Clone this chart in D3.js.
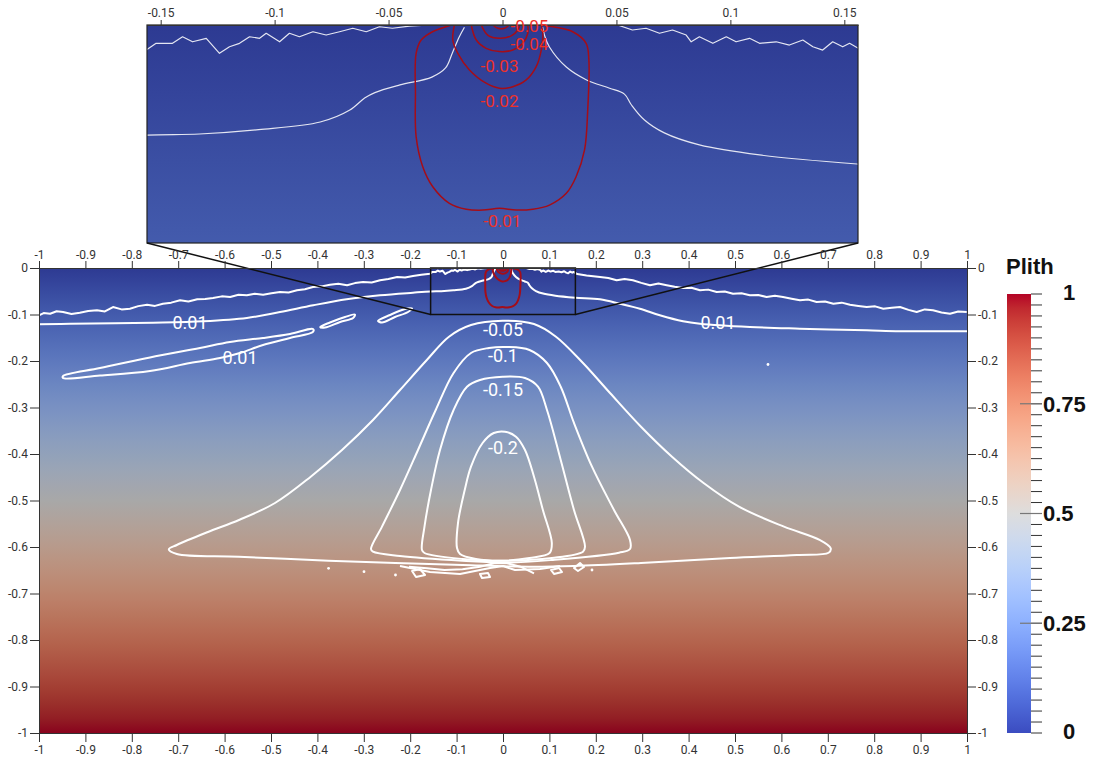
<!DOCTYPE html>
<html>
<head>
<meta charset="utf-8">
<script src="https://cdn.jsdelivr.net/npm/d3@7"></script>
<style>
  body { margin: 0; background: #fff; }
  svg { display: block; font-family: Roboto, "Open Sans", sans-serif; }
</style>
</head>
<body>
<svg id="chart" width="1098" height="759"></svg>
<script>
// ---- axes / ticks ----
const xTicks = [-1, -0.9, -0.8, -0.7, -0.6, -0.5, -0.4, -0.3, -0.2, -0.1, 0, 0.1, 0.2, 0.3, 0.4, 0.5, 0.6, 0.7, 0.8, 0.9, 1];
const yTicks = [0, -0.1, -0.2, -0.3, -0.4, -0.5, -0.6, -0.7, -0.8, -0.9, -1];
const insetTicks = [-0.15, -0.1, -0.05, 0, 0.05, 0.1, 0.15];
const zoomX = [-0.156, 0.156];
const zoomY = [0, -0.1];
const barTicks = [0, 0.25, 0.5, 0.75, 1];

// ParaView "cool to warm" map (Plith 0 -> 1)
const coolWarm = [
  [59,76,192],[68,90,204],[77,104,215],[87,117,225],[98,130,234],[108,142,241],[119,154,247],[130,165,251],
  [141,176,254],[152,185,255],[163,194,255],[174,201,253],[184,208,249],[194,213,244],[204,217,238],[213,219,230],
  [221,221,221],[229,216,209],[236,211,197],[241,204,185],[245,196,173],[247,187,160],[247,177,148],[247,166,135],
  [244,154,123],[241,141,111],[236,127,99],[229,112,88],[222,96,77],[213,80,66],[203,62,56],[192,40,47],[180,4,38]
];

// ---- white contours [x, y] ----
const surfaceLeft = [
  [-1.0,-0.1017],[-0.99,-0.097],[-0.976,-0.0983],[-0.962,-0.093],[-0.948,-0.0946],[-0.93,-0.099],[-0.912,-0.0961],
  [-0.894,-0.0925],[-0.875,-0.091],[-0.858,-0.0935],[-0.8405,-0.0839],[-0.822,-0.089],[-0.804,-0.0875],[-0.786,-0.082],
  [-0.767,-0.0789],[-0.75,-0.0815],[-0.733,-0.0768],[-0.715,-0.0745],[-0.696,-0.0695],[-0.678,-0.072],[-0.659,-0.0673],
  [-0.642,-0.0665],[-0.625,-0.0645],[-0.606,-0.061],[-0.588,-0.0624],[-0.57,-0.0575],[-0.552,-0.0587],[-0.535,-0.0555],
  [-0.517,-0.0574],[-0.499,-0.0545],[-0.4806,-0.0516],[-0.462,-0.0525],[-0.444,-0.048],[-0.427,-0.0455],[-0.4095,-0.0409],
  [-0.391,-0.0395],[-0.373,-0.0359],[-0.355,-0.034],[-0.336,-0.0372],[-0.319,-0.0325],[-0.3017,-0.0301],[-0.283,-0.031],
  [-0.265,-0.0265],[-0.247,-0.0235],[-0.228,-0.0194],[-0.211,-0.0205],[-0.194,-0.0172],[-0.176,-0.0145],[-0.157,-0.0123],
  [-0.1563,-0.0115],[-0.152,-0.0084],[-0.1448,-0.0084],[-0.1404,-0.0054],[-0.136,-0.0077],[-0.13,-0.0061],[-0.1242,-0.013],
  [-0.1198,-0.01],[-0.1154,-0.0084],[-0.111,-0.0054],[-0.1066,-0.0061],[-0.1037,-0.0038],[-0.0978,-0.0077],[-0.0935,-0.0038],
  [-0.0891,-0.0054],[-0.0832,-0.0031],[-0.0774,-0.0046],[-0.0715,-0.0031],[-0.0657,-0.0015],[-0.0598,-0.0031],[-0.054,-0.0008],
  [-0.0483,-0.0015],[-0.0408,-0.0005],[-0.032,0.0]
];
const surfaceRight = [
  [0.0505,0.0],[0.057,-0.0023],[0.063,-0.0015],[0.0689,-0.0038],[0.0746,-0.0023],[0.0806,-0.0046],[0.0828,-0.0077],
  [0.0864,-0.0054],[0.0923,-0.0084],[0.0982,-0.0054],[0.1025,-0.0077],[0.1084,-0.0061],[0.1128,-0.0084],[0.1201,-0.0077],
  [0.1259,-0.0092],[0.1318,-0.0069],[0.1362,-0.01],[0.1405,-0.0115],[0.1449,-0.0077],[0.1493,-0.01],[0.1523,-0.0084],
  [0.16,-0.013],[0.18,-0.016],[0.209,-0.0194],[0.227,-0.0215],[0.245,-0.0265],[0.262,-0.0235],[0.28,-0.0265],[0.298,-0.032],
  [0.3168,-0.0372],[0.335,-0.0335],[0.3528,-0.0372],[0.37,-0.0405],[0.388,-0.043],[0.406,-0.0425],[0.4246,-0.048],
  [0.442,-0.0465],[0.4606,-0.0516],[0.478,-0.0505],[0.4957,-0.0553],[0.514,-0.0545],[0.532,-0.0587],[0.55,-0.058],
  [0.568,-0.0624],[0.586,-0.0595],[0.6034,-0.0624],[0.622,-0.066],[0.64,-0.0695],[0.658,-0.068],[0.676,-0.0731],
  [0.694,-0.072],[0.712,-0.0768],[0.73,-0.0745],[0.7478,-0.0789],[0.766,-0.0815],[0.7838,-0.0839],[0.802,-0.0825],
  [0.8196,-0.0875],[0.838,-0.0855],[0.8556,-0.0839],[0.874,-0.09],[0.8916,-0.0946],[0.909,-0.089],[0.9267,-0.091],
  [0.945,-0.0955],[0.9634,-0.0983],[0.981,-0.0935],[0.9994,-0.0946]
];
const c001Left = [
  [-1.0,-0.121],[-0.933,-0.12],[-0.754,-0.1176],[-0.6466,-0.1146],[-0.552,-0.1075],[-0.4806,-0.0946],[-0.409,-0.0802],
  [-0.337,-0.0673],[-0.265,-0.0587],[-0.194,-0.0531],[-0.156,-0.0505],[-0.133,-0.05],[-0.107,-0.048],[-0.08,-0.0445],
  [-0.067,-0.039],[-0.0605,-0.0335],[-0.056,-0.031],[-0.045,-0.0275],[-0.031,-0.0239],[-0.025,-0.0197],[-0.022,-0.0128],
  [-0.019,-0.0055],[-0.0167,-0.001]
];
const c001Right = [
  [0.0176,-0.001],[0.0184,-0.0046],[0.0206,-0.0101],[0.028,-0.0193],[0.0369,-0.0252],[0.047,-0.029],[0.0535,-0.0317],
  [0.0566,-0.0367],[0.0623,-0.0436],[0.071,-0.0495],[0.0864,-0.055],[0.1128,-0.0596],[0.156,-0.0638],[0.209,-0.0673],
  [0.252,-0.0768],[0.295,-0.0875],[0.338,-0.1017],[0.388,-0.1146],[0.4246,-0.1198],[0.532,-0.1269],[0.64,-0.1305],
  [0.784,-0.134],[0.856,-0.136],[1.0,-0.136]
];
const c001Sliver = [
  [-0.9483,-0.2323],[-0.8685,-0.2151],[-0.7608,-0.1925],[-0.653,-0.172],[-0.5884,-0.1591],[-0.5172,-0.1505],[-0.459,-0.1419],
  [-0.4095,-0.1312],[-0.4095,-0.1376],[-0.459,-0.1505],[-0.5172,-0.1656],[-0.5668,-0.1828],[-0.6099,-0.1935],[-0.6746,-0.2043],
  [-0.7608,-0.2215],[-0.8685,-0.2312],[-0.9483,-0.2366]
];
const c001Loop1 = [[-0.394,-0.1269],[-0.373,-0.1172],[-0.3405,-0.1054],[-0.319,-0.1],[-0.323,-0.1075],[-0.351,-0.1161],[-0.3836,-0.128]];
const c001Loop2 = [[-0.2694,-0.114],[-0.2435,-0.101],[-0.2112,-0.0882],[-0.1961,-0.0871],[-0.2047,-0.0946],[-0.2328,-0.1054],[-0.2608,-0.1172]];
const c005 = [
  [-0.7203,-0.605],[-0.703,-0.5957],[-0.6358,-0.5677],[-0.569,-0.5419],[-0.4914,-0.5054],[-0.4144,-0.4488],[-0.347,-0.3914],
  [-0.2802,-0.3269],[-0.222,-0.2624],[-0.1642,-0.1978],[-0.1164,-0.1477],[-0.069,-0.1226],[-0.0006,-0.1133],[0.0668,-0.1204],
  [0.1142,-0.1477],[0.1724,-0.2043],[0.2306,-0.2688],[0.2974,-0.3413],[0.3642,-0.4058],[0.4323,-0.4624],[0.5086,-0.5133],
  [0.6056,-0.5563],[0.6823,-0.5849],[0.7063,-0.6028],[0.7017,-0.6123],[0.6336,-0.6172],[0.4892,-0.6237],[0.2974,-0.6344],
  [0.153,-0.6409],[0.056,-0.6424],[-0.0873,-0.6387],[-0.2317,-0.6344],[-0.3759,-0.6295],[-0.569,-0.6209],[-0.703,-0.615]
];
const c010 = [
  [-0.2845,-0.6043],[-0.2608,-0.5563],[-0.222,-0.4774],[-0.1832,-0.3914],[-0.145,-0.3054],[-0.1065,-0.2258],[-0.069,-0.1828],
  [-0.0302,-0.172],[0.0086,-0.1699],[0.0571,-0.1763],[0.0948,-0.2043],[0.1244,-0.2553],[0.153,-0.3333],[0.1918,-0.4273],
  [0.2392,-0.5204],[0.2737,-0.5849],[0.2737,-0.6043],[0.25,-0.6123],[0.1052,-0.628],[0.0086,-0.6337],[-0.0873,-0.6295],
  [-0.222,-0.6194],[-0.2802,-0.6101]
];
const c015 = [
  [-0.1746,-0.6065],[-0.1692,-0.5563],[-0.1552,-0.4774],[-0.1358,-0.3914],[-0.1065,-0.3054],[-0.0776,-0.2553],[-0.0496,-0.2409],
  [-0.0006,-0.2338],[0.0474,-0.2366],[0.0754,-0.2553],[0.0948,-0.3054],[0.1244,-0.4129],[0.153,-0.5204],[0.1767,-0.5993],
  [0.1724,-0.6101],[0.1052,-0.6237],[0.0086,-0.6295],[-0.0873,-0.6258],[-0.1692,-0.6129]
];
const c020 = [
  [-0.0991,-0.6022],[-0.097,-0.5484],[-0.0825,-0.4774],[-0.069,-0.4273],[-0.044,-0.3763],[-0.0199,-0.3548],[0.0043,-0.352],
  [0.028,-0.3628],[0.0474,-0.3914],[0.0668,-0.4488],[0.086,-0.5204],[0.1052,-0.5914],[0.1004,-0.6129],[0.0571,-0.6237],
  [-0.0006,-0.6295],[-0.0582,-0.6258],[-0.0927,-0.6151]
];
const bottomWave1 = [[-0.2026,-0.6424],[-0.1638,-0.6458],[-0.1259,-0.6495],[-0.0873,-0.648],[-0.0496,-0.6424],[-0.0172,-0.6344],[0.0086,-0.635],[0.0377,-0.6424],[0.0668,-0.6566]];
const bottomWave2 = [[-0.222,-0.6409],[-0.1573,-0.6538],[-0.0927,-0.6581],[-0.028,-0.6452],[0.0,-0.6409],[0.0259,-0.6495],[0.0797,-0.6473],[0.1228,-0.6409]];
const bottomLoops = [
  [[-0.196,-0.6516],[-0.179,-0.6473],[-0.168,-0.6602],[-0.1875,-0.6645]],
  [[-0.0496,-0.658],[-0.0323,-0.6559],[-0.028,-0.6645],[-0.0453,-0.6667]],
  [[0.1034,-0.6495],[0.1207,-0.6452],[0.1272,-0.6538],[0.1099,-0.658]],
  [[0.153,-0.6452],[0.166,-0.6344],[0.1746,-0.643],[0.1616,-0.6516]]
];
const specks = [[-0.3759,-0.6458],[-0.2996,-0.6531],[0.1918,-0.6495],[-0.2317,-0.6602],[0.5711,-0.2075]];

// ---- red contours (zoomed) ----
const r001 = [
  [-0.0224,0.0],[-0.0307,-0.0031],[-0.0357,-0.0069],[-0.0379,-0.013],[-0.0382,-0.0313],[-0.0379,-0.0512],[-0.035,-0.065],
  [-0.0306,-0.0742],[-0.0233,-0.0818],[-0.0159,-0.0845],[-0.0086,-0.0849],[-0.0013,-0.0841],[0.006,-0.0849],[0.0133,-0.0845],
  [0.0206,-0.0826],[0.028,-0.0772],[0.0323,-0.0696],[0.036,-0.0573],[0.0374,-0.039],[0.0379,-0.0161],[0.0367,-0.0084],
  [0.0308,-0.0031],[0.0221,-0.0008],[0.0177,0.0]
];
const r002 = [[-0.0211,0.0],[-0.0218,-0.0069],[-0.0196,-0.013],[-0.0145,-0.0206],[-0.0072,-0.0267],[-0.0013,-0.029],[0.0045,-0.0283],[0.0104,-0.0252],[0.0148,-0.0191],[0.017,-0.0115],[0.0177,-0.0038],[0.017,0.0]];
const r003 = [[-0.0137,0.0],[-0.0115,-0.0069],[-0.0072,-0.0107],[-0.0013,-0.0122],[0.0045,-0.0115],[0.0089,-0.0084],[0.0111,-0.0038],[0.0111,0.0]];
const r004 = [[-0.0093,0.0],[-0.0065,-0.0046],[-0.0013,-0.0061],[0.0038,-0.005],[0.0067,-0.0023],[0.0075,0.0]];
const r005 = [[-0.0043,0.0],[-0.002,-0.0015],[0.0009,-0.0015],[0.003,0.0]];

// contour labels
const whiteLabels = [
  { text: "0.01", at: [-0.6746,-0.1183] }, { text: "0.01", at: [-0.5668,-0.1935] }, { text: "0.01", at: [0.4634,-0.1183] },
  { text: "-0.05", at: [0,-0.1333] }, { text: "-0.1", at: [0,-0.1892] }, { text: "-0.15", at: [0,-0.2624] }, { text: "-0.2", at: [0,-0.385] }
];
const redLabels = [
  { text: "-0.05", at: [0.0118,-0.0005] }, { text: "-0.04", at: [0.0118,-0.0087] }, { text: "-0.03", at: [-0.0013,-0.0188] },
  { text: "-0.02", at: [-0.0013,-0.0349] }, { text: "-0.01", at: [0,-0.0899] }
];

const svg = d3.select('#chart');
const defs = svg.append('defs');
const shade = 0.76;
const cmap = d3.scaleLinear()
  .domain(coolWarm.map((c, i) => i / (coolWarm.length - 1)))
  .range(coolWarm.map(c => d3.rgb(c[0], c[1], c[2])))
  .interpolate(d3.interpolateRgb);
const shaded = p => { const c = d3.rgb(cmap(p)); return d3.rgb(c.r * shade, c.g * shade, c.b * shade); };

const x = d3.scaleLinear([-1, 1], [39, 967]);
const y = d3.scaleLinear([0, -1], [268, 733]);
const ix = d3.scaleLinear(zoomX, [147, 858]);
const iy = d3.scaleLinear(zoomY, [25, 243]);
const cb = d3.scaleLinear([0, 1], [733, 294]);

function makeGrad(id, y1, y2, colorFn) {
  const g = defs.append('linearGradient').attr('id', id)
    .attr('gradientUnits', 'userSpaceOnUse')
    .attr('x1', 0).attr('x2', 0).attr('y1', y1).attr('y2', y2);
  d3.range(0, 1.0001, 1 / 32).forEach(p => {
    g.append('stop').attr('offset', p).attr('stop-color', colorFn(p));
  });
}
makeGrad('mainGrad', y(0), y(-1), shaded);
makeGrad('insetGrad', iy(0), iy(-1), shaded);
makeGrad('barGrad', cb(0), cb(1), p => cmap(p));

defs.append('clipPath').attr('id', 'mainClip').append('rect')
  .attr('x', x(-1)).attr('y', y(0)).attr('width', x(1) - x(-1)).attr('height', y(-1) - y(0));
defs.append('clipPath').attr('id', 'insetClip').append('rect')
  .attr('x', ix(zoomX[0])).attr('y', iy(0)).attr('width', ix(zoomX[1]) - ix(zoomX[0])).attr('height', iy(zoomY[1]) - iy(0));

const fmt = d => String(+d.toFixed(3));

function drawView(g, sx, sy, opt) {
  const open = d3.line().x(d => sx(d[0])).y(d => sy(d[1])).curve(d3.curveCatmullRom);
  const rough = d3.line().x(d => sx(d[0])).y(d => sy(d[1]));
  const closed = d3.line().x(d => sx(d[0])).y(d => sy(d[1])).curve(d3.curveCatmullRomClosed);
  const roughClosed = d3.line().x(d => sx(d[0])).y(d => sy(d[1])).curve(d3.curveLinearClosed);
  const w = g.append('g').attr('fill', 'none').attr('stroke', opt.white).attr('stroke-width', opt.ww)
    .attr('stroke-linejoin', 'round');
  [surfaceLeft, surfaceRight].forEach(l => w.append('path').attr('d', rough(l)));
  [c001Left, c001Right].forEach(l => w.append('path').attr('d', open(l)));
  [c001Sliver, c001Loop1, c001Loop2, c005, c010, c015, c020].forEach(l => w.append('path').attr('d', closed(l)));
  [bottomWave1, bottomWave2].forEach(l => w.append('path').attr('d', rough(l)));
  bottomLoops.forEach(l => w.append('path').attr('d', roughClosed(l)));
  g.append('g').selectAll('circle').data(specks).join('circle')
    .attr('cx', d => sx(d[0])).attr('cy', d => sy(d[1])).attr('r', 1.4).attr('fill', '#fff');
  const r = g.append('g').attr('fill', 'none').attr('stroke', '#a50d18').attr('stroke-width', opt.rw);
  [r001, r002, r003, r004, r005].forEach(l => r.append('path').attr('d', open(l)));
}

// main view
const main = svg.append('g').attr('clip-path', 'url(#mainClip)');
main.append('rect').attr('x', x(-1)).attr('y', y(0)).attr('width', x(1) - x(-1)).attr('height', y(-1) - y(0))
  .attr('fill', 'url(#mainGrad)');
drawView(main, x, y, { white: '#fff', ww: 2, rw: 2 });
main.append('g').selectAll('text').data(whiteLabels).join('text')
  .attr('x', d => x(d.at[0])).attr('y', d => y(d.at[1])).attr('dy', '0.36em')
  .attr('text-anchor', 'middle').attr('fill', '#fff').attr('font-size', 18).text(d => d.text);

// inset view
const inset = svg.append('g').attr('clip-path', 'url(#insetClip)');
inset.append('rect').attr('x', ix(zoomX[0])).attr('y', iy(0)).attr('width', ix(zoomX[1]) - ix(zoomX[0]))
  .attr('height', iy(zoomY[1]) - iy(0)).attr('fill', 'url(#insetGrad)');
drawView(inset, ix, iy, { white: '#e4e6f2', ww: 1.2, rw: 1.5 });
svg.append('rect').attr('x', ix(zoomX[0])).attr('y', iy(0)).attr('width', ix(zoomX[1]) - ix(zoomX[0]))
  .attr('height', iy(zoomY[1]) - iy(0)).attr('fill', 'none').attr('stroke', '#222').attr('stroke-width', 1.2);

// zoom box + connectors
svg.append('rect').attr('x', x(zoomX[0])).attr('y', y(zoomY[0])).attr('width', x(zoomX[1]) - x(zoomX[0]))
  .attr('height', y(zoomY[1]) - y(zoomY[0])).attr('fill', 'none').attr('stroke', '#111').attr('stroke-width', 1.5);
[0, 1].forEach(i => {
  svg.append('line')
    .attr('x1', ix(zoomX[i])).attr('y1', iy(zoomY[1]))
    .attr('x2', x(zoomX[i])).attr('y2', y(zoomY[1]))
    .attr('stroke', '#111').attr('stroke-width', 1.5);
});

// axes
function styleAxis(g) {
  g.selectAll('.domain').attr('stroke', '#333');
  g.selectAll('.tick line').attr('stroke', '#333');
  g.selectAll('.tick text').attr('fill', '#333').attr('font-size', 12).attr('font-family', 'Roboto, sans-serif');
}
svg.append('g').attr('transform', `translate(0,${y(0)})`)
  .call(d3.axisTop(x).tickValues(xTicks).tickFormat(fmt).tickSize(7).tickPadding(2).tickSizeOuter(0)).call(styleAxis);
svg.append('g').attr('transform', `translate(0,${y(-1)})`)
  .call(d3.axisBottom(x).tickValues(xTicks).tickFormat(fmt).tickSize(9).tickPadding(3).tickSizeOuter(0)).call(styleAxis);
svg.append('g').attr('transform', `translate(${x(-1)},0)`)
  .call(d3.axisLeft(y).tickValues(yTicks).tickFormat(fmt).tickSize(9).tickPadding(2).tickSizeOuter(0)).call(styleAxis);
svg.append('g').attr('transform', `translate(${x(1)},0)`)
  .call(d3.axisRight(y).tickValues(yTicks).tickFormat(fmt).tickSize(9).tickPadding(2).tickSizeOuter(0)).call(styleAxis);
svg.append('g').attr('transform', `translate(0,${iy(0)})`)
  .call(d3.axisTop(ix).tickValues(insetTicks).tickFormat(fmt).tickSize(5).tickPadding(3).tickSizeOuter(0)).call(styleAxis);

// red contour labels (may poke above the inset frame, as in the original)
svg.append('g').selectAll('text').data(redLabels).join('text')
  .attr('x', d => ix(d.at[0])).attr('y', d => iy(d.at[1])).attr('dy', '0.36em')
  .attr('text-anchor', 'middle').attr('fill', '#ee3128').attr('font-size', 17).text(d => d.text);

// colour bar
svg.append('rect').attr('x', 1007).attr('y', cb(1)).attr('width', 24).attr('height', cb(0) - cb(1))
  .attr('fill', 'url(#barGrad)');
svg.append('g').selectAll('line').data(d3.range(0, 1.0001, 0.025)).join('line')
  .attr('x1', 1031).attr('x2', 1042).attr('y1', d => cb(d)).attr('y2', d => cb(d))
  .attr('stroke', '#333').attr('stroke-width', 1);
svg.append('g').selectAll('line').data(barTicks.filter(d => d > 0 && d < 1)).join('line')
  .attr('x1', 1020).attr('x2', 1042).attr('y1', d => cb(d)).attr('y2', d => cb(d))
  .attr('stroke', '#777').attr('stroke-width', 1.2);
const barText = svg.append('g').attr('font-family', '"Liberation Sans", Arial, sans-serif')
  .attr('font-weight', 'bold').attr('font-size', 22).attr('fill', '#111');
barText.selectAll('text.mid').data(barTicks.filter(d => d > 0 && d < 1)).join('text')
  .attr('class', 'mid').attr('x', 1043).attr('y', d => cb(d)).attr('dy', '0.36em').text(d => String(d));
barText.append('text').attr('x', 1063).attr('y', cb(1) + 6).text(String(barTicks[4]));
barText.append('text').attr('x', 1063).attr('y', cb(0) + 6).text(String(barTicks[0]));
barText.append('text').attr('x', 1006).attr('y', 274).text('Plith');
</script>
</body>
</html>
